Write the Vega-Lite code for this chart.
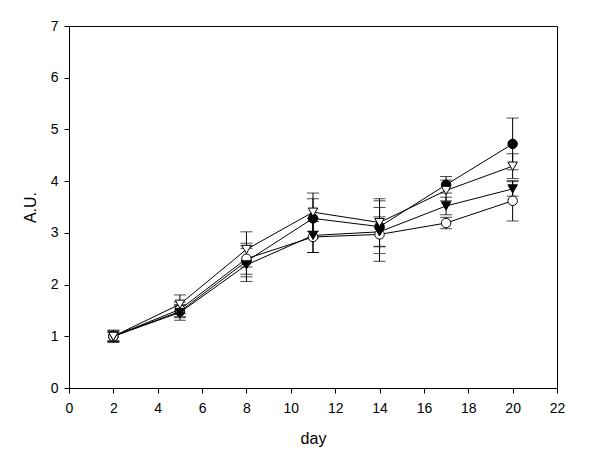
{
  "$schema": "https://vega.github.io/schema/vega-lite/v6.json",
  "autosize": "none",
  "width": 488,
  "height": 362,
  "padding": {"left": 69, "top": 26, "right": 43, "bottom": 87},
  "background": "white",
  "config": {
    "view": {"stroke": "#000", "strokeWidth": 1},
    "font": "Liberation Sans",
    "axis": {
      "domainColor": "#000", "tickColor": "#000", "grid": false,
      "labelFont": "Liberation Sans", "labelFontSize": 14, "labelColor": "#000",
      "titleFont": "Liberation Sans", "titleFontSize": 16, "titleFontWeight": "normal", "titleColor": "#000",
      "tickSize": 5
    }
  },
  "data": {
    "values": [
      {"day": 2, "series": "A", "y": 1.0, "lo": 0.9, "hi": 1.1},
      {"day": 5, "series": "A", "y": 1.48, "lo": 1.36, "hi": 1.6},
      {"day": 8, "series": "A", "y": 2.45, "lo": 2.15, "hi": 2.75},
      {"day": 11, "series": "A", "y": 3.28, "lo": 2.9, "hi": 3.66},
      {"day": 14, "series": "A", "y": 3.12, "lo": 2.6, "hi": 3.62},
      {"day": 17, "series": "A", "y": 3.93, "lo": 3.77, "hi": 4.09},
      {"day": 20, "series": "A", "y": 4.72, "lo": 4.22, "hi": 5.22},
      {"day": 2, "series": "B", "y": 1.0, "lo": 0.88, "hi": 1.12},
      {"day": 5, "series": "B", "y": 1.52, "lo": 1.38, "hi": 1.66},
      {"day": 8, "series": "B", "y": 2.5, "lo": 2.2, "hi": 2.8},
      {"day": 11, "series": "B", "y": 2.92, "lo": 2.62, "hi": 3.22},
      {"day": 14, "series": "B", "y": 2.97, "lo": 2.45, "hi": 3.49},
      {"day": 17, "series": "B", "y": 3.19, "lo": 3.08, "hi": 3.3},
      {"day": 20, "series": "B", "y": 3.62, "lo": 3.23, "hi": 4.01},
      {"day": 2, "series": "C", "y": 1.0, "lo": 0.92, "hi": 1.08},
      {"day": 5, "series": "C", "y": 1.46, "lo": 1.31, "hi": 1.61},
      {"day": 8, "series": "C", "y": 2.38, "lo": 2.06, "hi": 2.7},
      {"day": 11, "series": "C", "y": 2.95, "lo": 2.62, "hi": 3.28},
      {"day": 14, "series": "C", "y": 3.02, "lo": 2.73, "hi": 3.31},
      {"day": 17, "series": "C", "y": 3.52, "lo": 3.35, "hi": 3.69},
      {"day": 20, "series": "C", "y": 3.85, "lo": 3.71, "hi": 3.99},
      {"day": 2, "series": "D", "y": 1.0, "lo": 0.9, "hi": 1.1},
      {"day": 5, "series": "D", "y": 1.62, "lo": 1.44, "hi": 1.8},
      {"day": 8, "series": "D", "y": 2.68, "lo": 2.34, "hi": 3.02},
      {"day": 11, "series": "D", "y": 3.4, "lo": 3.03, "hi": 3.77},
      {"day": 14, "series": "D", "y": 3.2, "lo": 2.74, "hi": 3.66},
      {"day": 17, "series": "D", "y": 3.82, "lo": 3.62, "hi": 4.02},
      {"day": 20, "series": "D", "y": 4.29, "lo": 4.05, "hi": 4.53}
    ]
  },
  "layer": [
    {
      "mark": {"type": "rule", "color": "#000", "strokeWidth": 1},
      "encoding": {
        "x": {"field": "day", "type": "quantitative", "scale": {"domain": [0, 22], "nice": false},
              "axis": {"values": [0,2,4,6,8,10,12,14,16,18,20,22], "format": "d", "title": "day", "labelPadding": 8, "titlePadding": 15, "labelFlush": false}},
        "y": {"field": "lo", "type": "quantitative", "scale": {"domain": [0, 7], "nice": false},
              "axis": {"values": [0,1,2,3,4,5,6,7], "format": "d", "title": "A.U.", "labelPadding": 6, "titlePadding": 12}},
        "y2": {"field": "hi"}
      }
    },
    {
      "mark": {"type": "tick", "color": "#000", "orient": "horizontal", "size": 12, "thickness": 1},
      "encoding": {
        "x": {"field": "day", "type": "quantitative"},
        "y": {"field": "lo", "type": "quantitative"}
      }
    },
    {
      "mark": {"type": "tick", "color": "#000", "orient": "horizontal", "size": 12, "thickness": 1},
      "encoding": {
        "x": {"field": "day", "type": "quantitative"},
        "y": {"field": "hi", "type": "quantitative"}
      }
    },
    {
      "mark": {"type": "line", "color": "#000", "strokeWidth": 1},
      "encoding": {
        "x": {"field": "day", "type": "quantitative"},
        "y": {"field": "y", "type": "quantitative"},
        "detail": {"field": "series"}
      }
    },
    {
      "mark": {"type": "point", "filled": false, "stroke": "#000", "strokeWidth": 1, "size": 90, "opacity": 1},
      "encoding": {
        "x": {"field": "day", "type": "quantitative"},
        "y": {"field": "y", "type": "quantitative"},
        "shape": {"field": "series", "type": "nominal",
                  "scale": {"domain": ["A","B","C","D"], "range": ["circle","circle","triangle-down","triangle-down"]}, "legend": null},
        "fill": {"field": "series", "type": "nominal",
                 "scale": {"domain": ["A","B","C","D"], "range": ["#000","#fff","#000","#fff"]}, "legend": null}
      }
    }
  ]
}
